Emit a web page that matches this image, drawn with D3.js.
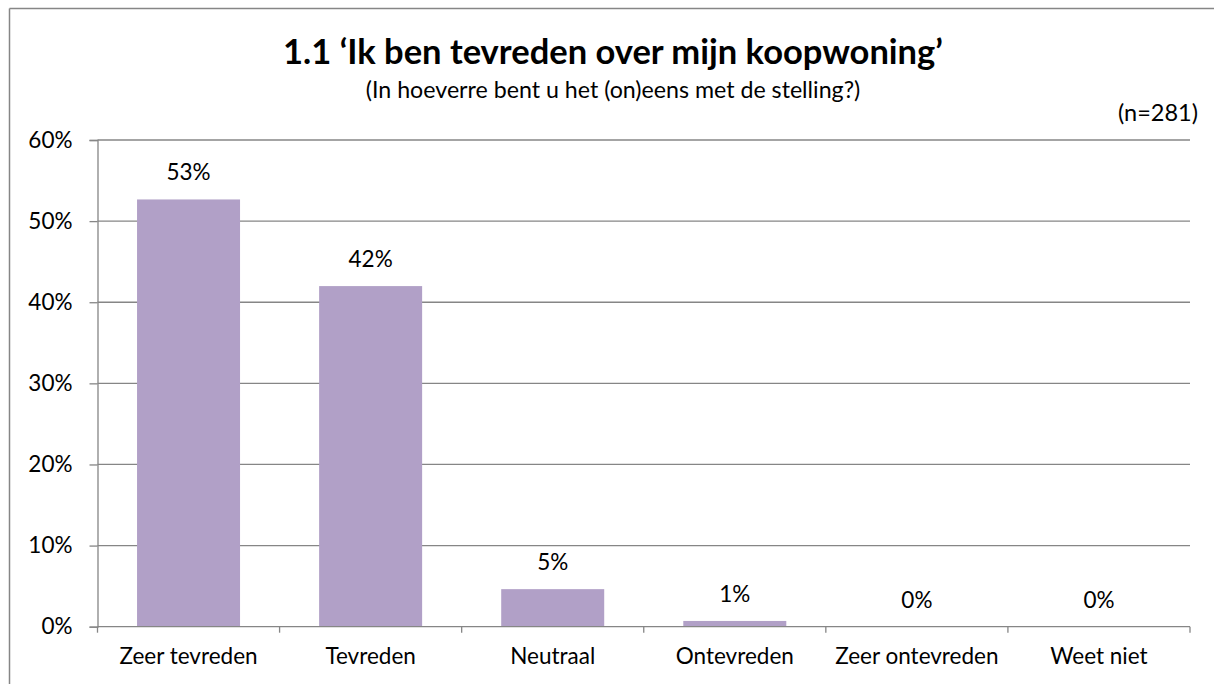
<!DOCTYPE html>
<html><head><meta charset="utf-8">
<script src="https://cdn.jsdelivr.net/npm/d3@7"></script>
<style>html,body{margin:0;padding:0;background:#fff;overflow:hidden;}svg{display:block;}</style>
</head><body>
<svg id="chart" width="1214" height="684"></svg>
<script>
const categories = ["Zeer tevreden", "Tevreden", "Neutraal", "Ontevreden", "Zeer ontevreden", "Weet niet"];
const values = [0.5267, 0.4199, 0.0463, 0.0071, 0, 0];
const yTicks = [0, 0.1, 0.2, 0.3, 0.4, 0.5, 0.6];
const titleText = "1.1 \u2018Ik ben tevreden over mijn koopwoning\u2019";
const subtitleText = "(In hoeverre bent u het (on)eens met de stelling?)";
const nText = "(n=281)";

(function () {
const FONT = "Lato, 'Open Sans', sans-serif";
const FS = 22.5;
const svg = d3.select("#chart");
const gray = "#868686";

// outer border (chart area extends beyond the right and bottom edges)
svg.append("line").attr("x1", 9.5).attr("x2", 1214).attr("y1", 8.5).attr("y2", 8.5)
  .attr("stroke", gray).attr("stroke-width", 1.5);
svg.append("line").attr("x1", 9.5).attr("x2", 9.5).attr("y1", 8.5).attr("y2", 684)
  .attr("stroke", gray).attr("stroke-width", 1.5);

const pLeft = 97.5, pRight = 1190, pTop = 140, pBottom = 626.7;
const y = d3.scaleLinear().domain([0, 0.6]).range([pBottom, pTop]);
const p = 1 - 103 / ((pRight - pLeft) / categories.length);
const x = d3.scaleBand().domain(categories).range([pLeft, pRight]).paddingInner(p).paddingOuter(p / 2);

// gridlines
svg.append("g").selectAll("line").data(yTicks.filter(d => d > 0)).join("line")
  .attr("x1", pLeft).attr("x2", pRight).attr("y1", d => y(d)).attr("y2", d => y(d))
  .attr("stroke", gray).attr("stroke-width", 1.3);

// y axis
const yAxis = d3.axisLeft(y).tickValues(yTicks).tickFormat(d3.format(".0%")).tickSize(8).tickPadding(17);
const gy = svg.append("g").attr("transform", `translate(${pLeft},0)`).call(yAxis);
gy.select(".domain").attr("stroke", gray).attr("stroke-width", 1.3);
gy.selectAll(".tick line").attr("stroke", gray).attr("stroke-width", 1.3);
gy.selectAll(".tick text").attr("font-family", FONT).attr("font-size", FS).attr("fill", "#000");

// bars
svg.append("g").selectAll("rect").data(categories).join("rect")
  .attr("x", d => x(d)).attr("width", x.bandwidth())
  .attr("y", (d, i) => y(values[i])).attr("height", (d, i) => pBottom - y(values[i]))
  .attr("fill", "#b1a0c7");

// data labels
svg.append("g").selectAll("text").data(categories).join("text")
  .attr("x", d => x(d) + x.bandwidth() / 2)
  .attr("y", (d, i) => y(values[i]) - 19)
  .attr("text-anchor", "middle").attr("font-family", FONT).attr("font-size", FS).attr("fill", "#000")
  .text((d, i) => d3.format(".0%")(values[i]));

// x axis
const step = x.step();
const bounds = d3.range(categories.length + 1).map(i => pLeft + i * step);
svg.append("line").attr("x1", pLeft).attr("x2", pRight).attr("y1", pBottom).attr("y2", pBottom)
  .attr("stroke", gray).attr("stroke-width", 1.3);
svg.append("g").selectAll("line").data(bounds).join("line")
  .attr("x1", d => d).attr("x2", d => d).attr("y1", pBottom).attr("y2", pBottom + 6)
  .attr("stroke", gray).attr("stroke-width", 1.3);
svg.append("g").selectAll("text").data(categories).join("text")
  .attr("x", d => x(d) + x.bandwidth() / 2).attr("y", 664)
  .attr("text-anchor", "middle").attr("font-family", FONT).attr("font-size", FS).attr("fill", "#000")
  .text(d => d);

// titles
svg.append("text").attr("x", 613).attr("y", 64).attr("text-anchor", "middle")
  .attr("font-family", FONT).attr("font-weight", "bold").attr("font-size", 34.5).attr("fill", "#000").text(titleText);
svg.append("text").attr("x", 613).attr("y", 98).attr("text-anchor", "middle")
  .attr("font-family", FONT).attr("font-size", 23.2).attr("fill", "#000").text(subtitleText);
svg.append("text").attr("x", 1198).attr("y", 121).attr("text-anchor", "end")
  .attr("font-family", FONT).attr("font-size", 23.5).attr("fill", "#000").text(nText);
})();
</script>
</body></html>
